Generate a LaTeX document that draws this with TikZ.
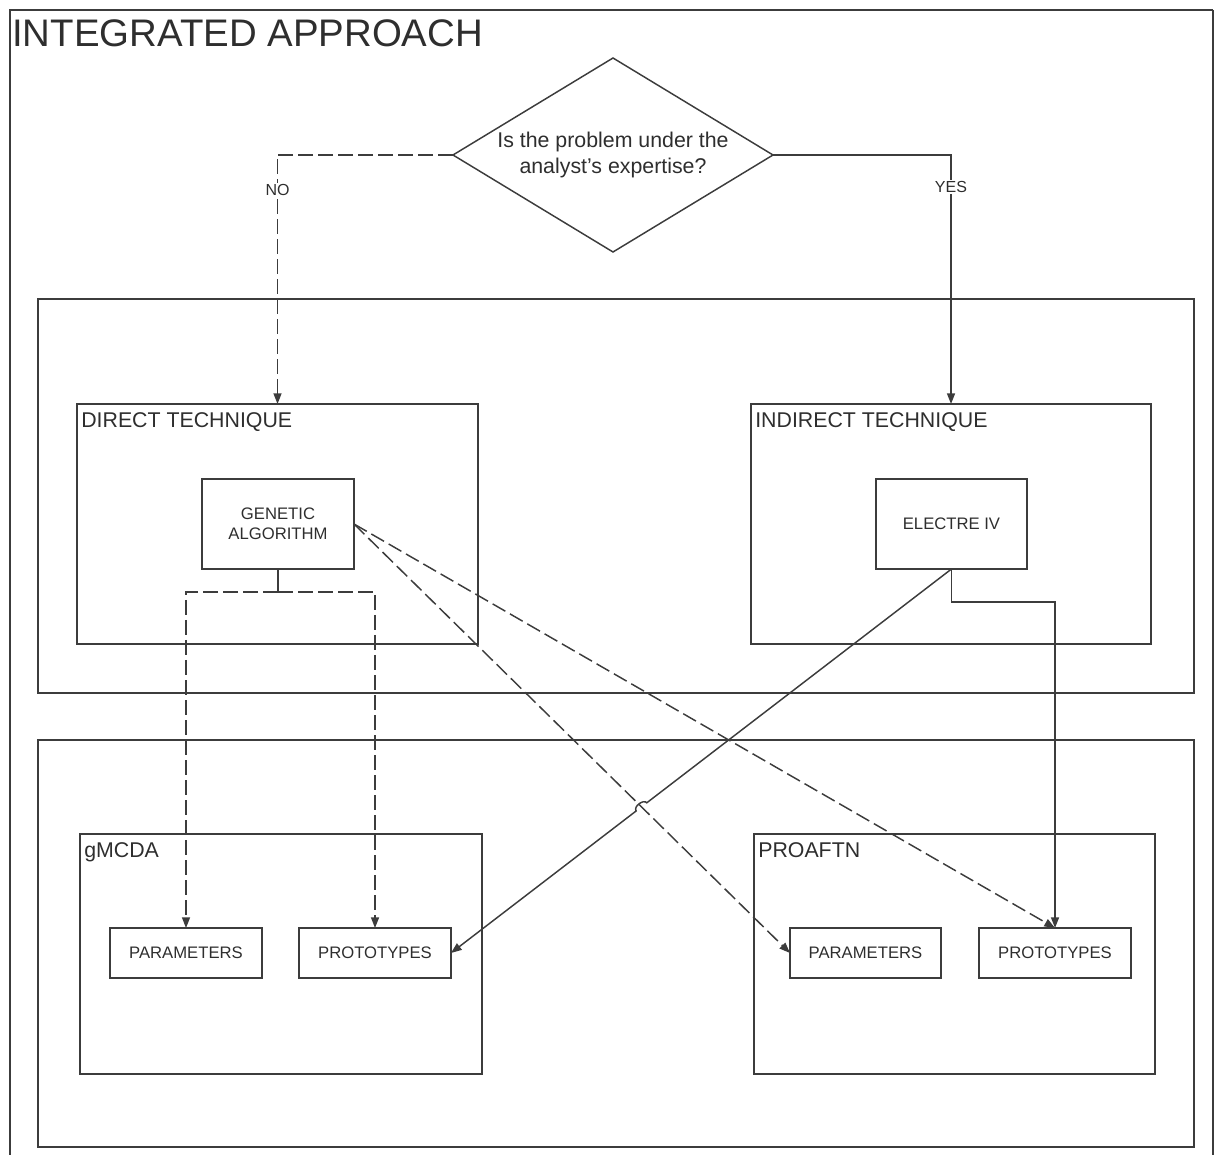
\documentclass[tikz,border=0pt]{standalone}
\usepackage{fontspec}
\setmainfont{Liberation Sans}
\usepackage{xcolor}
\usepackage{tikz}
\usetikzlibrary{calc, arrows.meta, positioning, shapes.geometric, intersections}

\definecolor{linegray}{HTML}{3C3C3C}
\definecolor{textgray}{HTML}{2E2E2E}

\begin{document}
\begin{tikzpicture}[
      x=0.75pt, y=-0.75pt,
      every node/.style={text=textgray},
      px size/.style 2 args={minimum width=#1*0.75pt, minimum height=#2*0.75pt},
      panel/.style={draw=linegray, line width=1.1pt, anchor=north west,
                    inner sep=0pt, outer sep=0pt},
      panel title/.style={anchor=north west, inner xsep=3pt, inner ysep=6pt,
                          font=\fontsize{16}{19}\selectfont},
      smallbox/.style={draw=linegray, line width=1.1pt, align=center,
                       inner sep=0pt, outer sep=0pt,
                       font=\fontsize{12.5}{15}\selectfont},
      decision/.style={draw=linegray, line width=1.1pt, diamond, aspect=1.65,
                       inner sep=0pt, outer sep=0pt, align=center,
                       minimum width=240pt, minimum height=145.5pt,
                       font=\fontsize{16}{19.5}\selectfont},
      edgelabel/.style={fill=white, inner sep=1pt, font=\fontsize{12}{14}\selectfont},
      arr/.style={-{Stealth[length=8pt, width=6pt, inset=0pt]}, draw=linegray,
                  line width=1.1pt},
      darr/.style={arr, dash pattern=on 11pt off 4pt}
    ]
    \useasboundingbox (0,0) rectangle (1215,1155);

    % outer frame and title
    \draw[linegray, line width=2.2pt] (10,1155) -- (10,10) -- (1213,10);
    \draw[linegray, line width=1pt] (1213,10) -- (1213,1155);
    \node[anchor=west, inner sep=0pt, font=\fontsize{28.8}{32}\selectfont]
      (title) at (12,33) {INTEGRATED APPROACH};

    % question
    \node[decision] (question) at (613,155)
      {Is the problem under the\\analyst's expertise?};

    % technique panels
    \node[panel, px size={1156}{394}] (techniques) at (38,299) {};
    \node[panel, px size={401}{240}] (direct) at (77,404) {};
    \node[panel title] at (direct.north west) {DIRECT TECHNIQUE};
    \node[panel, px size={400}{240}] (indirect) at (751,404) {};
    \node[panel title] at (indirect.north west) {INDIRECT TECHNIQUE};
    \node[smallbox, px size={152}{90}] (genetic) at (278,524) {GENETIC\\ALGORITHM};
    \node[smallbox, px size={151}{90}] (electre) at (951.5,524) {ELECTRE IV};

    % method panels
    \node[panel, px size={1156}{407}] (methods) at (38,740) {};
    \node[panel, px size={402}{240}] (gmcda) at (80,834) {};
    \node[panel title] at (gmcda.north west) {gMCDA};
    \node[panel, px size={401}{240}] (proaftn) at (754,834) {};
    \node[panel title] at (proaftn.north west) {PROAFTN};
    \node[smallbox, px size={152}{50}] (paramsL) at (186,953) {PARAMETERS};
    \node[smallbox, px size={152}{50}] (protosL) at (375,953) {PROTOTYPES};
    \node[smallbox, px size={151}{50}] (paramsR) at (865.5,953) {PARAMETERS};
    \node[smallbox, px size={152}{50}] (protosR) at (1055,953) {PROTOTYPES};

    % answers
    \draw[darr] (question.west) -| node[edgelabel, pos=0.57] {NO} (direct.north);
    \draw[arr] (question.east) -| node[edgelabel, pos=0.565] {YES} (indirect.north);

    % direct technique outputs
    \draw[draw=linegray, line width=1.1pt] (genetic.south) -- ++(0,23) coordinate (split);
    \draw[darr] (split) -| (paramsL.north);
    \draw[darr] (split) -| (protosL.north);
    \draw[darr, name path=gatoparams] (genetic.east) -- (paramsR.west);
    \draw[darr] (genetic.east) -- (protosR.north);

    % indirect technique outputs
    \draw[arr] (electre.south) -- ++(0,33) -| (protosR.north);
    \path[name path=eltoprotos] (electre.south) -- (protosL.east);
    \path[name intersections={of=gatoparams and eltoprotos, by=hop}];
    \coordinate (hopIn) at ($(hop)!5pt!(electre.south)$);
    \coordinate (hopOut) at ($(hop)!5pt!(protosL.east)$);
    \draw[arr] (electre.south) -- (hopIn) to[bend right=90] (hopOut) -- (protosL.east);
  \end{tikzpicture}
\end{document}
